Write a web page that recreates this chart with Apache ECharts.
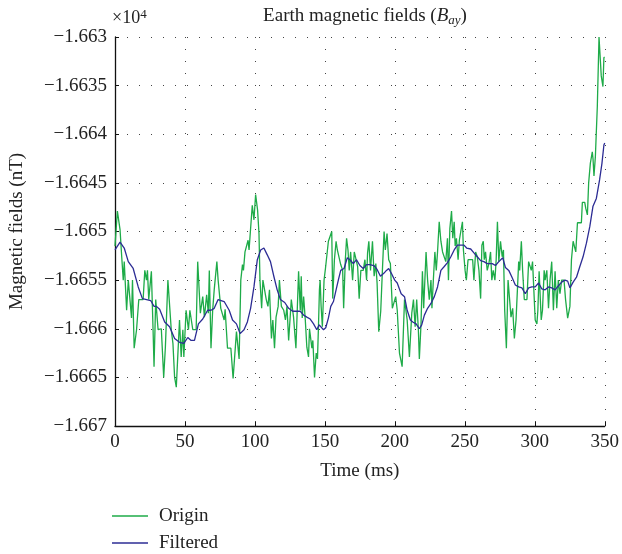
<!DOCTYPE html>
<html>
<head>
<meta charset="utf-8">
<script src="https://cdn.jsdelivr.net/npm/echarts@6/dist/echarts.min.js"></script>
<style>
  html, body { margin: 0; padding: 0; background: #fff; }
  #chart { width: 622px; height: 554px; }
</style>
</head>
<body>
<div id="chart"></div>
<script>
// values (time in ms, field in nT)
var originTime = [0, 1.7, 3.6, 4.8, 5.9, 6.6, 8.3, 9.5, 11.8, 12.5, 13.7, 15.4, 17.0, 20.1, 21.3, 22.5, 23.2, 24.1, 26.0, 27.2,
  27.9, 29.1, 30.8, 33.1, 34.8, 36.0, 37.8, 40.2, 41.4, 42.6, 43.8, 46.1, 47.3, 48.5, 49.2, 50.8, 52.5, 53.5, 55.6, 58.0,
  59.1, 61.0, 62.7, 63.9, 65.5, 66.7, 67.4, 68.6, 69.8, 70.9, 72.8, 73.7, 75.6, 76.8, 78.0, 78.7, 80.4, 82.8, 84.4, 85.1,
  86.8, 88.7, 89.9, 91.1, 91.8, 92.9, 94.3, 95.1, 95.8, 96.7, 98.1, 99.3, 100.5, 101.2, 101.9, 102.9, 103.6, 104.8, 105.7, 107.1,
  108.1, 109.3, 110.4, 111.8, 112.8, 114.0, 115.1, 116.6, 117.5, 118.9, 120.6, 121.8, 122.9, 124.1, 126.0, 127.6, 129.3, 131.2, 132.4, 133.1,
  133.8, 134.8, 136.0, 137.1, 138.3, 139.0, 140.0, 140.7, 141.4, 142.6, 143.8, 144.7, 145.4, 146.1, 146.6, 147.3, 148.2, 149.4, 150.4, 151.3,
  152.5, 153.7, 154.9, 155.6, 156.8, 158.0, 158.9, 160.3, 161.3, 162.7, 163.4, 164.6, 165.5, 166.5, 167.4, 168.4, 169.8, 171.0, 172.2, 173.4,
  174.5, 175.7, 177.4, 178.6, 179.8, 180.5, 181.4, 182.6, 184.0, 185.2, 186.4, 187.3, 188.5, 189.9, 191.1, 192.3, 193.2, 194.4, 195.6, 196.8,
  198.2, 199.4, 200.6, 201.7, 203.3, 205.2, 206.9, 208.8, 210.4, 212.1, 213.3, 214.5, 215.6, 216.8, 217.5, 218.7, 219.7, 220.6, 222.3, 223.4,
  224.6, 225.8, 226.5, 227.5, 228.6, 229.6, 230.5, 231.7, 232.9, 234.1, 235.3, 236.4, 237.6, 238.3, 239.3, 240.5, 241.4, 242.4, 243.1, 244.0,
  245.2, 246.1, 247.1, 248.3, 249.0, 250.2, 251.1, 252.3, 255.6, 256.5, 257.7, 258.9, 260.1, 261.3, 262.2, 263.2, 263.9, 264.8, 266.0, 267.2,
  268.4, 269.3, 270.3, 271.5, 272.4, 273.3, 274.3, 275.5, 276.7, 277.6, 278.5, 279.7, 280.9, 281.9, 283.0, 284.2, 285.4, 286.6, 287.3, 288.5,
  289.2, 290.4, 291.3, 292.5, 294.4, 295.6, 296.8, 297.5, 298.4, 300.3, 301.5, 302.2, 303.1, 304.6, 305.5, 306.7, 307.4, 308.6, 309.8, 310.9,
  312.1, 313.3, 314.5, 315.7, 316.8, 318.0, 319.2, 320.9, 322.0, 323.5, 324.6, 325.1, 326.2, 327.4, 328.6, 329.3, 330.5, 333.3, 334.0, 335.7,
  336.4, 337.6, 338.5, 339.7, 340.4, 341.1, 341.6, 342.3, 343.3, 344.7, 345.9, 346.6, 347.5, 348.7, 349.4, 350];
var originValue = [-16651.5, -16647.9, -16649.8, -16652.6, -16655.0, -16653.1, -16658.1, -16655.0, -16658.9, -16655.0, -16662.0, -16660.1, -16657.0, -16657.0, -16654.0, -16655.0, -16654.0, -16657.0, -16654.1, -16660.1,
  -16663.9, -16657.0, -16660.1, -16660.0, -16665.0, -16661.9, -16655.0, -16660.1, -16661.5, -16665.0, -16666.0, -16659.1, -16662.9, -16660.1, -16662.9, -16658.1, -16660.1, -16658.1, -16660.1, -16660.1,
  -16653.1, -16658.4, -16656.7, -16658.8, -16656.5, -16658.4, -16654.0, -16662.0, -16658.1, -16656.0, -16653.1, -16655.0, -16657.9, -16658.1, -16659.1, -16658.0, -16662.0, -16662.0, -16665.1, -16665.1,
  -16660.3, -16663.1, -16655.0, -16653.4, -16654.0, -16652.1, -16652.1, -16650.9, -16651.9, -16652.1, -16647.3, -16648.8, -16646.2, -16646.0, -16647.8, -16650.2, -16655.0, -16657.9, -16655.0, -16655.0,
  -16657.0, -16657.7, -16656.0, -16661.0, -16659.1, -16662.0, -16658.8, -16657.7, -16655.0, -16657.7, -16658.1, -16659.1, -16657.7, -16661.2, -16657.0, -16658.8, -16662.0, -16654.1, -16658.1, -16654.6,
  -16658.9, -16656.7, -16659.1, -16661.9, -16662.9, -16660.0, -16660.1, -16662.0, -16661.2, -16665.0, -16662.5, -16663.1, -16659.8, -16656.0, -16655.0, -16657.7, -16659.8, -16655.0, -16653.8, -16654.0,
  -16651.0, -16651.0, -16650.0, -16656.9, -16652.9, -16651.0, -16651.9, -16652.1, -16653.4, -16654.0, -16657.9, -16652.9, -16650.7, -16651.9, -16654.0, -16652.1, -16655.0, -16652.1, -16652.1, -16653.6,
  -16656.9, -16654.0, -16654.0, -16652.9, -16655.0, -16652.2, -16651.0, -16654.0, -16651.0, -16654.6, -16653.3, -16655.3, -16660.3, -16658.2, -16654.0, -16650.0, -16651.9, -16650.2, -16652.9, -16653.3,
  -16657.9, -16657.9, -16656.7, -16658.1, -16662.5, -16663.9, -16657.0, -16659.1, -16662.9, -16658.4, -16657.0, -16659.8, -16657.0, -16660.1, -16663.1, -16659.5, -16654.1, -16657.9, -16652.1, -16655.0,
  -16657.0, -16655.0, -16657.9, -16655.0, -16652.1, -16654.0, -16652.1, -16649.0, -16651.0, -16652.1, -16652.1, -16653.1, -16650.7, -16655.0, -16649.7, -16647.9, -16650.7, -16649.0, -16651.5, -16650.7,
  -16652.9, -16650.9, -16650.0, -16649.0, -16651.9, -16654.0, -16655.0, -16652.9, -16652.9, -16655.0, -16652.1, -16652.6, -16654.0, -16656.9, -16651.4, -16651.0, -16652.9, -16652.1, -16654.0, -16653.3,
  -16652.1, -16655.0, -16654.0, -16655.0, -16652.9, -16649.0, -16653.1, -16651.0, -16652.6, -16651.9, -16658.1, -16662.0, -16655.0, -16655.0, -16658.8, -16657.9, -16661.0, -16659.1, -16659.1, -16653.1,
  -16654.0, -16651.0, -16654.0, -16657.0, -16657.0, -16653.1, -16653.3, -16654.0, -16653.1, -16659.1, -16659.5, -16658.1, -16654.1, -16659.1, -16658.1, -16654.0, -16655.0, -16654.0, -16657.9, -16655.0,
  -16653.1, -16658.1, -16654.1, -16657.9, -16655.0, -16656.4, -16655.0, -16655.0, -16657.0, -16658.9, -16658.9, -16657.7, -16652.9, -16651.0, -16651.2, -16652.1, -16649.1, -16649.1, -16647.0, -16647.0,
  -16647.6, -16648.3, -16645.0, -16643.0, -16643.0, -16641.8, -16642.5, -16644.3, -16642.3, -16637.1, -16630.0, -16630.1, -16634.0, -16635.1, -16632.1, -16632.1];

var filteredTime = [0, 3.6, 6.6, 9.5, 13.0, 16.6, 19.6, 25.5, 27.9, 29.6, 31.9, 35.5, 39.0, 42.6, 46.1, 49.2, 52.0, 54.4, 56.8, 59.6,
  62.7, 66.2, 68.6, 70.9, 73.7, 78.0, 81.6, 84.0, 86.8, 89.4, 92.2, 94.6, 96.9, 99.3, 101.7, 104.1, 106.4, 108.8, 111.1, 113.5,
  115.9, 118.2, 121.3, 124.1, 127.0, 130.0, 132.4, 134.8, 137.1, 139.5, 141.9, 144.2, 145.9, 147.1, 149.0, 150.6, 152.5, 154.2, 156.1, 158.0,
  159.6, 161.3, 163.7, 166.0, 167.9, 170.3, 172.6, 175.0, 177.4, 179.8, 182.1, 185.0, 187.3, 189.7, 192.1, 194.0, 195.6, 197.5, 199.9, 201.7,
  204.5, 206.9, 208.8, 211.1, 212.8, 215.2, 217.5, 219.2, 221.1, 223.4, 225.8, 228.2, 230.5, 232.9, 235.3, 237.6, 240.0, 242.4, 244.7, 247.1,
  249.4, 251.3, 254.2, 256.5, 258.9, 261.3, 263.6, 266.0, 267.2, 269.6, 271.9, 274.3, 277.1, 279.0, 281.4, 283.7, 286.1, 288.5, 290.8, 293.2,
  295.6, 297.9, 300.3, 302.7, 305.0, 307.4, 309.8, 312.1, 314.5, 316.8, 319.2, 321.6, 323.5, 325.1, 327.4, 329.8, 332.2, 334.5, 336.9, 339.3,
  341.6, 344.0, 346.3, 348.0, 349.4, 350];
var filteredValue = [-16651.9, -16651.1, -16651.7, -16653.1, -16653.8, -16655.7, -16656.9, -16657.1, -16657.7, -16657.7, -16658.0, -16659.3, -16659.8, -16661.0, -16661.4, -16661.5, -16660.9, -16661.2, -16661.2, -16659.5,
  -16659.0, -16658.1, -16658.1, -16657.9, -16657.0, -16657.2, -16658.1, -16659.1, -16659.5, -16660.5, -16660.1, -16659.3, -16657.9, -16655.7, -16652.9, -16651.9, -16651.7, -16652.4, -16653.1, -16654.6,
  -16656.0, -16657.0, -16657.3, -16657.9, -16658.2, -16658.2, -16658.2, -16658.6, -16658.8, -16659.0, -16659.5, -16660.1, -16659.6, -16659.5, -16660.1, -16659.9, -16658.9, -16657.7, -16657.2, -16656.0,
  -16655.0, -16654.0, -16653.8, -16652.7, -16652.9, -16653.3, -16652.9, -16653.5, -16653.8, -16653.4, -16653.4, -16653.5, -16653.9, -16654.6, -16654.3, -16654.0, -16653.8, -16654.3, -16655.0, -16655.3,
  -16656.4, -16656.7, -16658.1, -16659.1, -16659.3, -16659.5, -16660.0, -16659.6, -16658.6, -16657.9, -16657.4, -16656.7, -16655.7, -16654.0, -16653.6, -16653.2, -16652.6, -16651.9, -16651.4, -16651.4,
  -16651.4, -16651.7, -16651.8, -16652.2, -16652.6, -16653.0, -16653.1, -16653.3, -16653.2, -16653.3, -16653.5, -16653.1, -16652.7, -16653.7, -16654.0, -16654.7, -16655.5, -16655.7, -16655.8, -16656.4,
  -16655.8, -16655.7, -16655.7, -16655.3, -16655.9, -16656.0, -16655.7, -16655.8, -16656.0, -16655.6, -16655.2, -16655.0, -16655.1, -16655.8, -16655.2, -16654.7, -16653.6, -16652.6, -16651.2, -16649.5,
  -16647.4, -16646.6, -16644.7, -16643.0, -16641.1, -16640.9];

var seriesNames = ['Origin', 'Filtered'];
var seriesColors = ['#1eab48', '#2c2c94'];

function pairs(xs, ys) {
  return xs.map(function (x, i) { return [x, ys[i]]; });
}

var serif = '"Liberation Serif", "DejaVu Serif", serif';
var gridLine = {
  show: true,
  lineStyle: { color: '#444', width: 1, type: [1, 11] }
};

var chart = echarts.init(document.getElementById('chart'), null, { renderer: 'canvas' });
chart.setOption({
  animation: false,
  backgroundColor: '#fff',
  textStyle: { fontFamily: serif },
  title: {
    text: '{n|Earth magnetic fields (}{i|B}{s|ay}{n|)}',
    left: 360,
    textAlign: 'center',
    top: 0,
    textStyle: {
      fontWeight: 'normal',
      rich: {
        n: { fontFamily: serif, fontSize: 19, fontWeight: 'normal', color: '#222', lineHeight: 22 },
        i: { fontFamily: serif, fontSize: 19, fontWeight: 'normal', color: '#222', fontStyle: 'italic', lineHeight: 22 },
        s: { fontFamily: serif, fontSize: 13, fontWeight: 'normal', color: '#222', fontStyle: 'italic', lineHeight: 22, padding: [9, 0, 0, 0] }
      }
    }
  },
  graphic: [{
    type: 'text',
    left: 112,
    top: 8,
    style: {
      text: '×10{p|4}',
      font: '18px ' + serif,
      fill: '#222',
      rich: {
        p: { fontFamily: serif, fontSize: 13, fill: '#222', padding: [0, 0, 8, 0] }
      }
    }
  }],
  legend: {
    orient: 'vertical',
    left: 112,
    top: 506,
    padding: 0,
    icon: 'rect',
    itemWidth: 36,
    itemHeight: 1.5,
    itemGap: 7,
    data: seriesNames,
    textStyle: { fontFamily: serif, fontSize: 19, lineHeight: 20, color: '#222', padding: [0, 0, 0, 6] }
  },
  grid: { left: 113, top: 37, right: 16, bottom: 128 },
  xAxis: {
    type: 'value',
    min: 0,
    max: 350,
    interval: 50,
    name: 'Time (ms)',
    nameLocation: 'middle',
    nameGap: 36,
    nameTextStyle: { fontFamily: serif, fontSize: 19, color: '#222' },
    axisLine: { show: true, onZero: false, lineStyle: { color: '#111', width: 1.3 } },
    axisTick: { show: true, inside: true, length: 4, lineStyle: { color: '#111' } },
    axisLabel: { fontFamily: serif, fontSize: 19, color: '#222', margin: 7 },
    splitLine: gridLine
  },
  yAxis: {
    type: 'value',
    min: -16670,
    max: -16630,
    interval: 5,
    name: 'Magnetic fields (nT)',
    nameLocation: 'middle',
    nameRotate: 90,
    nameGap: 88,
    nameTextStyle: { fontFamily: serif, fontSize: 19, color: '#222' },
    axisLine: { show: true, onZero: false, lineStyle: { color: '#111', width: 1.3 } },
    axisTick: { show: true, inside: true, length: 4, lineStyle: { color: '#111' } },
    axisLabel: {
      fontFamily: serif,
      fontSize: 19,
      color: '#222',
      margin: 8,
      formatter: function (v) {
        return '\u2212' + parseFloat((Math.abs(v) / 10000).toFixed(4));
      }
    },
    splitLine: gridLine
  },
  series: [{
    name: seriesNames[0],
    type: 'line',
    data: pairs(originTime, originValue),
    showSymbol: false,
    color: seriesColors[0],
    lineStyle: { width: 1.3, color: seriesColors[0] }
  }, {
    name: seriesNames[1],
    type: 'line',
    data: pairs(filteredTime, filteredValue),
    showSymbol: false,
    color: seriesColors[1],
    lineStyle: { width: 1.3, color: seriesColors[1] }
  }]
});
</script>
</body>
</html>
